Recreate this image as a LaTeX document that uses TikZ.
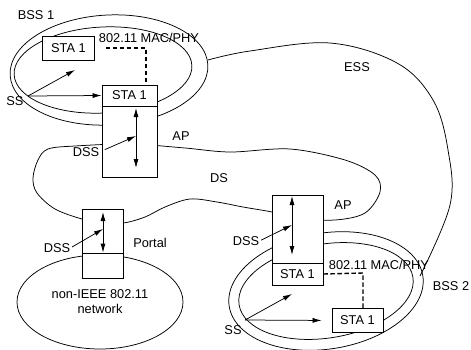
\documentclass[tikz,border=0pt]{standalone}
\usepackage{fontspec}
\setmainfont{Liberation Sans}
\usepackage{tikz}
\usetikzlibrary{calc}
\usetikzlibrary{arrows.meta}

\tikzset{
    box/.style = {draw, fill = white, line width = 0.8pt, inner sep = 0pt, minimum width = 52pt, minimum height = 24pt, font = \fontsize{12.8}{15}\selectfont},
    lbl/.style = {inner sep = 0pt, font = \fontsize{12.8}{15}\selectfont},
    kurve/.style = {line width = 0.75pt},
    pfeil/.style = {line width = 0.75pt, -{Latex[length = 9pt, width = 5pt]}},
    dpfeil/.style = {line width = 0.8pt, {Latex[length = 9pt, width = 5pt]}-{Latex[length = 9pt, width = 5pt]}},
    strich/.style = {line width = 1.4pt, dash pattern = on 4.5pt off 2.5pt}
}

\begin{document}
\begin{tikzpicture}[x = 1pt, y = -1pt]
    \useasboundingbox (0,0) rectangle (471,349);

    % ESS
    \draw[kurve] plot[smooth, tension = 0.6] coordinates {(208,60) (250,51) (330,43) (397,63) (433,100) (448,150) (450,205) (420,276)};

    % BSS 1
    \draw[kurve, rotate around = {3:(109,70)}] (109,70) ellipse [x radius = 99, y radius = 55];
    \draw[kurve, rotate around = {3:(103,70)}] (103,70) ellipse [x radius = 89, y radius = 43];

    % DS
    \draw[kurve] plot[smooth cycle, tension = 0.55] coordinates {(48,149) (75,146) (130,144) (185,148) (230,152) (290,149) (345,160) (375,175) (380,192) (365,213) (335,220) (297,218) (272,212) (243,207) (217,202) (190,199) (165,207) (145,217) (123,223) (100,222) (82,219) (55,209) (37,193) (33,178) (38,160)};

    % non-IEEE 802.11
    \draw[kurve] (100,302) ellipse [x radius = 83, y radius = 47];

    % BSS 2
    \draw[kurve, rotate around = {9:(326,291)}] (326,291) ellipse [x radius = 98, y radius = 58];
    \draw[kurve, rotate around = {9:(326,291)}] (326,291) ellipse [x radius = 88, y radius = 47];

    % Boxen
    \node[box] (sta1a) at (68.5,48) {STA 1};
    \node[box, minimum width = 55pt, minimum height = 92pt] (ap1) at (129.5,131) {};
    \node[box, minimum width = 55pt, minimum height = 21pt, anchor = north] (ap1sta) at (ap1.north) {STA 1};

    \node[box, minimum width = 41pt, minimum height = 69pt] (portal) at (102.5,243.5) {};
    \node[box, minimum width = 41pt, minimum height = 25pt, anchor = south] (portalnet) at (portal.south) {};

    \node[box, minimum width = 51pt, minimum height = 90pt] (ap2) at (297.5,240) {};
    \node[box, minimum width = 51pt, minimum height = 22pt, anchor = south] (ap2sta) at (ap2.south) {STA 1};
    \node[box, minimum width = 51pt] (sta2b) at (357.5,320.5) {STA 1};

    % Beschriftung
    \node[lbl] (bss1) at (36,15) {BSS 1};
    \node[lbl] (ess) at (357,67) {ESS};
    \node[lbl] (ds) at (219,178) {DS};
    \node[lbl] (ap1lbl) at (181,136) {AP};
    \node[lbl] (ap2lbl) at (343,205) {AP};
    \node[lbl] (portallbl) at (150,243) {Portal};
    \node[lbl] (mac1) at (149,38) {802.11 MAC/PHY};
    \node[lbl] (mac2) at (379,265) {802.11 MAC/PHY};
    \node[lbl] (bss2) at (451,286) {BSS 2};
    \node[lbl, align = center] (net) at (100,302) {non-IEEE 802.11\\network};
    \node[lbl] (ss1) at (15,101) {SS};
    \node[lbl] (ss2) at (233,330) {SS};
    \node[lbl] (dss1) at (86,152) {DSS};
    \node[lbl] (dss2) at (246,241) {DSS};
    \node[lbl] (dss3) at (57,248) {DSS};

    % DSS
    \coordinate (ap1oben) at (136,108);
    \coordinate (ap1unten) at (136,168);
    \coordinate (ap1mitte) at (136,136);
    \draw[dpfeil] (ap1oben) -- (ap1unten);
    \draw[pfeil, shorten <= 6pt] (dss1.east) -- (ap1mitte);

    \coordinate (ap2oben) at (292,196);
    \coordinate (ap2unten) at (292,255);
    \coordinate (ap2mitte) at (292,225);
    \draw[dpfeil] (ap2oben) -- (ap2unten);
    \draw[pfeil, shorten <= 2pt] (dss2.east) -- (ap2mitte);

    \coordinate (portaloben) at (103,212);
    \coordinate (portalunten) at (portalnet.north -| portaloben);
    \coordinate (portalmitte) at (103,229);
    \draw[dpfeil] (portaloben) -- (portalunten);
    \draw[pfeil, shorten <= 2pt] (dss3.east) -- (portalmitte);

    % SS
    \coordinate (ss1a) at (28,96);
    \coordinate (ss1b) at (75,70);
    \draw[pfeil] (ss1a) -- (ss1b);
    \draw[pfeil] (ss1a) -- (ap1sta.west);

    \coordinate (ss2a) at (245,320);
    \coordinate (ss2b) at (292,294);
    \draw[pfeil] (ss2a) -- (ss2b);
    \draw[pfeil, shorten >= 10pt] (ss2a) -- (sta2b.west);

    % MAC/PHY
    \coordinate (knick1) at (146,48);
    \draw[strich, shorten <= 11pt] (sta1a.east) -- (knick1) -- (knick1 |- ap1sta.north);
    \coordinate (knick2) at (363,273);
    \draw[strich] (ap2sta.east) -- (knick2) -- (knick2 |- sta2b.north);
\end{tikzpicture}
\end{document}
